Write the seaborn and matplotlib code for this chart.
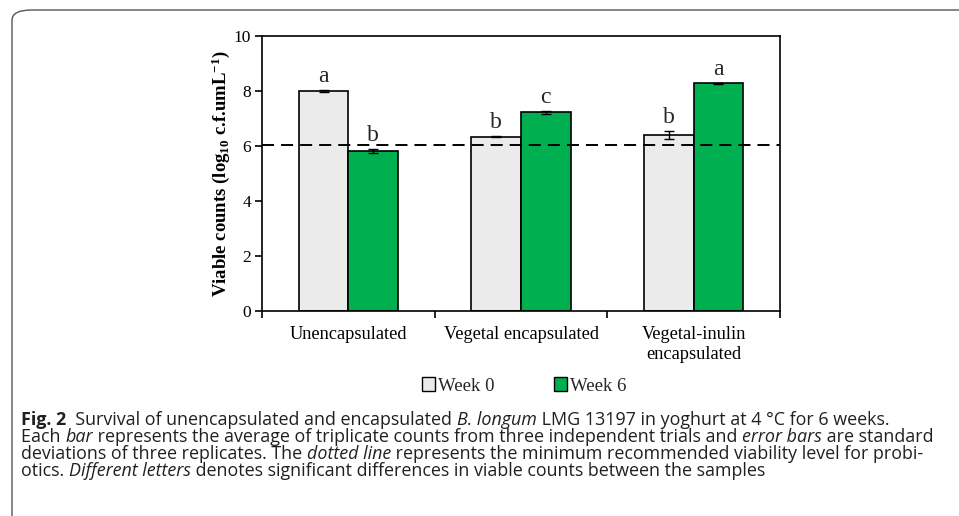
import matplotlib
matplotlib.use("Agg")
import matplotlib.pyplot as plt
import numpy as np
import pandas as pd
import seaborn as sns
from matplotlib.patches import FancyBboxPatch, Patch

SAMPLES = ["Unencapsulated", "Vegetal encapsulated", "Vegetal-inulin\nencapsulated"]
WEEKS = ["Week 0", "Week 6"]
WEEK0 = [8.01, 6.34, 6.40]
WEEK6 = [5.82, 7.22, 8.28]
WEEK0_SD = [0.04, 0.03, 0.15]
WEEK6_SD = [0.08, 0.06, 0.01]
WEEK0_LETTERS = ["a", "b", "b"]
WEEK6_LETTERS = ["b", "c", "a"]
MIN_LEVEL = 6.04
YTICKS = [0, 2, 4, 6, 8, 10]

CAPTION = [
    [("Fig. 2", "normal", "bold"),
     ("  Survival of unencapsulated and encapsulated ", "normal", "normal"),
     ("B. longum", "italic", "normal"),
     (" LMG 13197 in yoghurt at 4 \u00b0C for 6 weeks.", "normal", "normal")],
    [("Each ", "normal", "normal"),
     ("bar", "italic", "normal"),
     (" represents the average of triplicate counts from three independent trials and ", "normal", "normal"),
     ("error bars", "italic", "normal"),
     (" are standard", "normal", "normal")],
    [("deviations of three replicates. The ", "normal", "normal"),
     ("dotted line", "italic", "normal"),
     (" represents the minimum recommended viability level for probi-", "normal", "normal")],
    [("otics. ", "normal", "normal"),
     ("Different letters", "italic", "normal"),
     (" denotes significant differences in viable counts between the samples", "normal", "normal")],
]

sns.set_theme(style="white")
SERIF = "Liberation Serif"
CAP_FONT = "Open Sans"
plt.rcParams["font.family"] = [SERIF, "DejaVu Serif"]
plt.rcParams["mathtext.fontset"] = "custom"
plt.rcParams["mathtext.rm"] = SERIF + ":bold"
plt.rcParams["mathtext.it"] = SERIF + ":bold:italic"
plt.rcParams["mathtext.bf"] = SERIF + ":bold"

df = pd.DataFrame({
    "sample": SAMPLES * 2,
    "week": [WEEKS[0]] * 3 + [WEEKS[1]] * 3,
    "count": WEEK0 + WEEK6,
})

fig = plt.figure(figsize=(9.59, 5.16), dpi=100)
fig.patch.set_facecolor("white")
ax = fig.add_axes([262 / 959, 1 - 311 / 516, (780 - 262) / 959, (311 - 36) / 516])

colors = {"Week 0": "#ebebeb", "Week 6": "#00b050"}
sns.barplot(data=df, x="sample", y="count", hue="week", palette=colors,
            saturation=1, width=0.575, edgecolor="black", linewidth=1.2,
            errorbar=None, legend=False, ax=ax)

for cont, sds, letters in zip(ax.containers, [WEEK0_SD, WEEK6_SD],
                              [WEEK0_LETTERS, WEEK6_LETTERS]):
    for bar, sd, let in zip(cont, sds, letters):
        cx = bar.get_x() + bar.get_width() / 2
        top = bar.get_height()
        ax.errorbar(cx, top, yerr=sd, color="black", lw=1.0, capsize=3.5,
                    capthick=1.0, zorder=5)
        ax.annotate(let, (cx, top + sd), xytext=(0, 2), textcoords="offset points",
                    ha="center", va="bottom", fontsize=17, family=SERIF)

ax.axhline(MIN_LEVEL, color="black", lw=1.4, ls=(0, (6.2, 3.6)), zorder=6)

ax.set_ylim(0, 10)
ax.set_xlim(-0.5, 2.5)
ax.set_yticks(YTICKS)
ax.set_yticklabels([str(v) for v in YTICKS], fontsize=12.5)
ax.set_xticks([-0.5, 0.5, 1.5, 2.5])
ax.set_xticklabels([])
ax.set_xticks([0, 1, 2], minor=True)
ax.set_xticklabels(SAMPLES, minor=True, fontsize=13.2, linespacing=1.2)
ax.tick_params(axis="y", which="major", direction="out", length=5, width=1.2,
               pad=3, left=True, color="black", labelcolor="black")
ax.tick_params(axis="x", which="major", direction="out", length=5, width=1.2,
               bottom=True, color="black")
ax.tick_params(axis="x", which="minor", length=0, pad=11, labelcolor="black")
for sp in ax.spines.values():
    sp.set_visible(True)
    sp.set_color("black")
    sp.set_linewidth(1.2)
ax.set_xlabel("")
ax.set_ylabel(r"Viable counts (log$_{\mathregular{10}}$ c.f.umL$^{\mathregular{-1}}$)",
              fontsize=13.5, fontweight="bold", color="black")
ax.yaxis.set_label_coords(-0.058, 0.5)

handles = [Patch(facecolor=colors[w], edgecolor="black", linewidth=1.0, label=w)
           for w in WEEKS]
fig.legend(handles=handles, loc="center", bbox_to_anchor=(524 / 959, 1 - 386 / 516),
           ncol=2, frameon=False, handlelength=0.7,
           handleheight=0.7, handletextpad=0.15, columnspacing=3.15,
           prop={"family": SERIF, "size": 13.5})

# rounded frame around the figure panel
frame = FancyBboxPatch((12 / 959, -0.05), 1.2, 1 - 10 / 516 + 0.05,
                       boxstyle="round,pad=0,rounding_size=0.02",
                       transform=fig.transFigure, facecolor="none",
                       edgecolor="#555555", linewidth=1.0, clip_on=False)
fig.patches.append(frame)

# caption with mixed styles, laid out piece by piece
renderer = fig.canvas.get_renderer()


def seg_width(text, size, style, weight):
    kw = dict(fontsize=size, family=CAP_FONT, style=style, weight=weight)
    t1 = fig.text(0, 0, "|" + text + "|", **kw)
    t2 = fig.text(0, 0, "||", **kw)
    w = t1.get_window_extent(renderer).width - t2.get_window_extent(renderer).width
    t1.remove()
    t2.remove()
    return w


ref_w = sum(seg_width(s, 10, st, wt) for s, st, wt in CAPTION[1])
cap_size = 10 * 0.99 * (947 - 21) / ref_w
line_y = [420, 437, 454, 471]
for segs, yy in zip(CAPTION, line_y):
    xpx = 21
    for s, st, wt in segs:
        fig.text(xpx / 959, 1 - yy / 516, s, fontsize=cap_size, family=CAP_FONT,
                 style=st, weight=wt, va="center", ha="left", color="#231f20")
        xpx += seg_width(s, cap_size, st, wt)

fig.savefig("out.png", dpi=100, facecolor="white")
